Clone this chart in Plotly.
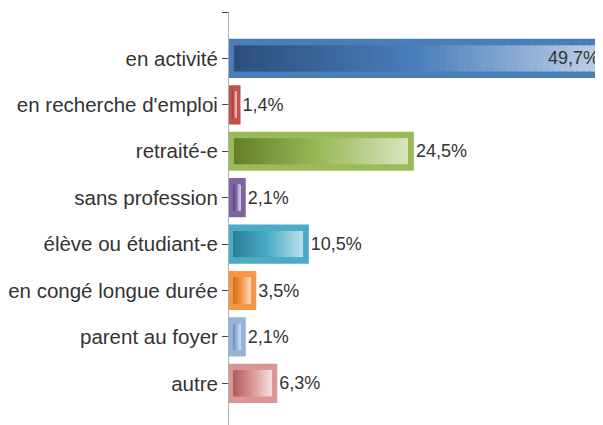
import plotly.graph_objects as go

categories = ["en activité", "en recherche d'emploi", "retraité-e", "sans profession",
              "élève ou étudiant-e", "en congé longue durée", "parent au foyer", "autre"]
values = [49.7, 1.4, 24.5, 2.1, 10.5, 3.5, 2.1, 6.3]

# border / mid colour, dark (left) and light (right) end of the gradient
border_colors = ["#4a7ebb", "#c0504d", "#9bbb59", "#8064a2", "#4bacc6", "#f79646", "#95b3d7", "#d99694"]
dark_colors = ["#2c4f7f", "#9a3532", "#62812a", "#5d4482", "#2b7f98", "#d4701c", "#6f8fc0", "#b05e5b"]
light_colors = ["#b9cde5", "#e6b9b8", "#d7e4bd", "#ccc1da", "#b7dee8", "#fcd5b5", "#c6d5ec", "#f2dcdb"]


def hex_to_rgb(h):
    h = h.lstrip("#")
    return [int(h[i:i + 2], 16) for i in (0, 2, 4)]


def mix(c1, c2, t):
    a, b = hex_to_rgb(c1), hex_to_rgb(c2)
    return "rgb({},{},{})".format(*[round(a[k] + (b[k] - a[k]) * t) for k in range(3)])


def grad_color(i, t):
    # dark -> mid -> light
    if t < 0.5:
        return mix(dark_colors[i], border_colors[i], t / 0.5)
    return mix(border_colors[i], light_colors[i], (t - 0.5) / 0.5)


pos = list(range(len(categories)))
fig = go.Figure()

# outer bar with border
fig.add_trace(go.Bar(
    y=pos, x=values, orientation="h", width=0.8,
    marker=dict(color=border_colors, line=dict(color=border_colors, width=2)),
    hoverinfo="skip", showlegend=False
))

# inner gradient made of thin segments
n_seg = 60
pads = [min(0.65, v * 0.3) for v in values]
for s in range(n_seg):
    t = s / (n_seg - 1)
    bases, lens, cols = [], [], []
    for i, v in enumerate(values):
        inner = v - 2 * pads[i]
        bases.append(pads[i] + inner * s / n_seg)
        lens.append(inner / n_seg * 1.5 if s < n_seg - 1 else inner / n_seg)
        cols.append(grad_color(i, t))
    fig.add_trace(go.Bar(
        y=pos, x=lens, base=bases, orientation="h", width=0.56,
        marker=dict(color=cols, line=dict(width=0)),
        hoverinfo="skip", showlegend=False
    ))

# value labels
labels = [f"{v:.1f}%".replace(".", ",") for v in values]
text_pos = ["inside" if v == max(values) else "outside" for v in values]
fig.add_trace(go.Bar(
    y=pos, x=values, orientation="h", width=0.8,
    marker=dict(color="rgba(0,0,0,0)", line=dict(width=0)),
    text=labels, textposition=text_pos, insidetextanchor="end",
    textfont=dict(size=18, color="#333333", family="Liberation Sans, Arial"),
    constraintext="none", cliponaxis=False,
    hoverinfo="skip", showlegend=False
))

# the page body adds an 8px offset, so margins are reduced to compensate
fig.update_layout(
    width=603, height=425,
    margin=dict(l=221, r=0, t=4, b=0, autoexpand=False),
    barmode="overlay",
    plot_bgcolor="white", paper_bgcolor="white",
    font=dict(family="Liberation Sans, Arial", size=20, color="#333333"),
    xaxis=dict(range=[0, 50.9], visible=False, fixedrange=True, automargin=False),
    yaxis=dict(
        range=[8.07, -1.0], automargin=False,
        tickvals=[-1] + pos, ticktext=[""] + categories,
        ticks="outside", ticklen=6, tickcolor="#444444", tickwidth=1,
        showline=True, linecolor="#b0b0b0", linewidth=1,
        showgrid=False, zeroline=False,
        tickfont=dict(size=20.5, color="#333333"),
    ),
)

fig.write_html("out.html")
